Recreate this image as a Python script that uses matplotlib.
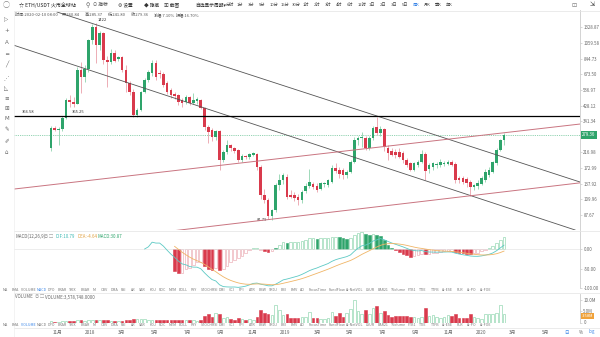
import numpy as np
import pandas as pd
import matplotlib
matplotlib.use("Agg")
import matplotlib.pyplot as plt
from matplotlib.ticker import NullLocator, FixedLocator
import matplotlib.transforms as mtransforms

plt.rcParams["font.family"] = ["Noto Sans CJK SC", "DejaVu Sans"]

# ETH/USDT weekly candles, first week starting 2017-10-16
first_week = "2017-10-16"
opens = [231, 309, 300, 305, 357, 463, 452, 440, 716, 647, 726, 1106, 1335, 1028, 1223, 827,
         804, 916, 840, 864, 716, 593, 520, 373, 401, 520, 619, 685, 792, 690, 672, 590,
         536, 505, 498, 463, 450, 484, 445, 455, 463, 413, 313, 300, 271, 295, 194, 218,
         241, 231, 225, 194, 206, 203, 210, 212, 175, 117, 109, 86, 94, 135, 145, 152,
         117, 117, 114, 109, 124, 133, 138, 133, 128, 137, 135, 141, 173, 168, 168, 156,
         163, 189, 260, 267, 267, 231, 267, 313, 287, 304, 231, 222, 218, 218, 215, 194,
         186, 168, 181, 189, 212, 171, 175, 181, 181, 184, 184, 189, 184, 150, 149, 147,
         141, 131, 133, 137, 145, 156, 163, 186, 225, 260]
highs = [318, 316, 312, 366, 475, 500, 482, 745, 800, 775, 1120, 1395, 1422, 1260, 1250, 880,
         970, 960, 880, 880, 770, 610, 540, 410, 530, 640, 720, 830, 830, 720, 700, 610,
         550, 520, 505, 480, 500, 490, 515, 485, 470, 420, 325, 310, 300, 300, 225, 260,
         245, 235, 228, 212, 210, 216, 218, 215, 180, 128, 112, 96, 140, 158, 160, 158,
         125, 122, 118, 125, 140, 170, 142, 140, 142, 142, 148, 180, 185, 175, 172, 168,
         195, 270, 275, 290, 275, 275, 320, 362, 320, 310, 240, 230, 228, 231, 220, 200,
         190, 190, 195, 225, 218, 185, 190, 190, 197, 192, 195, 195, 188, 155, 155, 152,
         145, 138, 145, 155, 170, 175, 192, 230, 265, 285.37]
lows = [222, 294, 241, 298, 350, 420, 418, 436, 515, 600, 700, 1050, 790, 960, 780, 560,
        780, 800, 820, 700, 520, 500, 365, 360, 395, 510, 600, 660, 620, 640, 560, 505,
        480, 470, 430, 420, 440, 430, 435, 440, 405, 300, 250, 255, 260, 168, 190, 212,
        222, 215, 190, 188, 198, 198, 205, 168, 110, 104, 83, 81.79, 92, 125, 138, 110,
        112, 108, 102, 105, 120, 130, 128, 122, 125, 132, 132, 140, 160, 150, 148, 150,
        160, 185, 240, 235, 225, 225, 260, 280, 275, 222, 195, 205, 200, 200, 185, 175,
        165, 165, 175, 185, 145, 160, 168, 172, 176, 178, 180, 178, 140, 140, 138, 132,
        115, 125, 128, 135, 142, 152, 160, 182, 220, 241.8]
closes = [309, 300, 305, 357, 463, 450, 440, 716, 647, 726, 1106, 1335, 1028, 1223, 827, 804,
          916, 820, 864, 716, 593, 520, 373, 401, 520, 619, 695, 792, 647, 672, 576, 520,
          498, 490, 450, 445, 484, 445, 463, 470, 413, 313, 291, 271, 295, 194, 218, 241,
          231, 222, 194, 206, 203, 212, 214, 175, 117, 109, 86, 94, 135, 145, 156, 114,
          114, 112, 109, 122, 133, 141, 131, 126, 139, 139, 145, 173, 166, 159, 156, 163,
          189, 260, 267, 271, 231, 267, 309, 287, 304, 235, 215, 210, 210, 203, 194, 181,
          168, 186, 189, 212, 165, 181, 186, 184, 189, 187, 189, 181, 145, 146, 141, 139,
          131, 135, 139, 150, 163, 168, 189, 225, 260, 279.36]
# weekly volume, millions
volumes = [0.5, 0.4, 0.4, 0.5, 0.7, 0.6, 0.5, 0.9, 1.1, 0.7, 1.0, 1.2, 1.3, 0.9, 1.1, 1.2,
           0.8, 0.7, 0.6, 0.7, 1.0, 1.2, 1.6, 1.5, 1.7, 1.4, 1.1, 1.3, 1.2, 1.0, 1.2, 1.1,
           1.0, 0.9, 1.2, 1.1, 1.0, 1.3, 0.9, 0.8, 1.3, 3.0, 3.6, 2.4, 4.3, 4.0, 2.2, 2.4,
           1.5, 1.3, 2.0, 1.6, 1.3, 1.4, 1.1, 2.6, 5.4, 4.4, 4.0, 3.2, 7.6, 5.4, 3.2, 3.6,
           2.2, 1.8, 2.2, 2.4, 2.6, 4.8, 2.0, 1.8, 1.6, 1.4, 2.0, 4.6, 2.8, 4.2, 2.6, 4.4,
           5.8, 10.2, 5.0, 3.8, 5.6, 4.0, 6.6, 7.3, 4.2, 5.0, 3.2, 2.4, 3.0, 3.0, 2.8, 3.0,
           2.6, 2.4, 1.8, 2.4, 6.6, 3.0, 3.2, 2.4, 2.0, 2.6, 3.5, 3.0, 4.0, 2.2, 1.8, 2.2,
           4.0, 2.5, 1.8, 1.6, 3.6, 4.0, 3.8, 4.2, 7.8, 3.578748]

price_ticks = [1328.87, 1059.58, 844.73, 673.50, 536.97, 428.12, 341.34,
               216.98, 172.99, 137.92, 109.96, 87.67]
resistance = 366.58
peak_label = "1422"
low_label = "81.79"

# drawn trend lines: (week index, price) end points
down_upper = [(1.6, 1659), (141.3, 141.3)]
down_lower = [(-10.1, 1028), (140.0, 70.5)]
up_upper = [(-9.9, 127.6), (141.3, 327.3)]
up_lower = [(-9.9, 53.1), (141.3, 139.6)]

month_starts = ["2017-11-01", "2018-01-01", "2018-03-01", "2018-05-01", "2018-07-01",
                "2018-09-01", "2018-11-01", "2019-01-01", "2019-03-01", "2019-05-01",
                "2019-07-01", "2019-09-01", "2019-11-01", "2020-01-01", "2020-03-01",
                "2020-05-01"]
month_labels = ["11月", "2018", "3月", "5月", "7月", "9月", "11月", "2019", "3月", "5月",
                "7月", "9月", "11月", "2020", "3月", "5月"]

top_items = ["分时", "1分", "3分", "5分", "10分", "15分", "30分", "1时", "2时", "3时", "4时",
             "6时", "12时", "1日", "2日", "3日", "5日", "周K", "月K", "季K", "年K"]
indicator_tabs = ["MA", "EMA", "VOLUME", "MACD", "DPO", "BRAR", "TRIX", "BBAR", "MI", "OBV",
                  "DMA", "RSI", "AR", "SAR", "KDJ", "ROC", "MTM", "BOLL", "PSY", "STOCHRSI",
                  "DMI", "CCI", "PPI", "ATR", "BBW", "SKDJ", "BBI", "EMV", "AO", "FocusTime",
                  "FundFlow", "AI-NetVOL", "LSUR", "BAR21", "TVolume", "FTB1", "TTIE", "TTFB",
                  "AI-ESE", "RLR", "AI-PO", "AI-FOE"]

GREEN = "#2ea46b"
RED = "#d93a4c"
LGREEN = "#7fcfa3"
PINK = "#e9a0aa"
GREY = "#666666"

W, H = 600, 337
fig = plt.figure(figsize=(W / 100, H / 100), dpi=100)
fig.patch.set_facecolor("white")


def box(x0, y0, x1, y1):
    return fig.add_axes([x0 / W, 1 - y1 / H, (x1 - x0) / W, (y1 - y0) / H])


def ftext(x, y, s, **kw):
    kw.setdefault("fontsize", 3.8)
    kw.setdefault("color", "#444444")
    kw.setdefault("va", "center")
    return fig.text(x / W, 1 - y / H, s, **kw)


o = np.array(opens, float)
h = np.array(highs, float)
l = np.array(lows, float)
c = np.array(closes, float)
v = np.array(volumes, float)
n = len(c)
idx = np.arange(n)
up = c >= o

start = pd.Timestamp(first_week)
tick_pos = [((pd.Timestamp(d) - start).days - 3.5) / 7 for d in month_starts]
XLIM = (-9.9, 141.3)


def style(ax):
    ax.set_facecolor("none")
    for s in ("top", "left", "bottom"):
        ax.spines[s].set_visible(False)
    ax.spines["right"].set_color("#cccccc")
    ax.spines["right"].set_linewidth(0.6)
    ax.set_xlim(*XLIM)
    ax.set_xticks([])
    ax.yaxis.tick_right()
    ax.tick_params(axis="y", length=1.2, width=0.4, color="#bbbbbb", labelsize=3.2,
                   labelcolor=GREY, pad=1.2)


# ---- main price panel ----
ax = box(14, 10, 580, 230)
style(ax)
ax.set_yscale("log")
ax.set_ylim(70.5, 1708)
ax.yaxis.set_major_locator(FixedLocator(price_ticks))
ax.yaxis.set_minor_locator(NullLocator())
ax.set_yticklabels([f"{t:.2f}" for t in price_ticks])

body_lo = np.minimum(o, c)
body_hi = np.maximum(o, c)
body_hi = np.maximum(body_hi, body_lo * 1.006)
cols = np.where(up, GREEN, RED)
wick_cols = np.where(up, "#8fd3ae", "#eaa0aa")
ax.vlines(idx, l, h, colors=wick_cols, linewidth=0.6, zorder=2)
ax.bar(idx, body_hi - body_lo, bottom=body_lo, width=0.7, color=cols, linewidth=0, zorder=3)

for pts, col, lw in [(down_upper, "#555555", 0.6), (down_lower, "#555555", 0.6),
                     (up_upper, "#c97480", 0.7), (up_lower, "#c97480", 0.7)]:
    ax.plot([p[0] for p in pts], [p[1] for p in pts], color=col, linewidth=lw, zorder=4)

ax.axhline(resistance, color="black", linewidth=0.9, zorder=4)
ax.axhline(closes[-1], color="#6cc497", linewidth=0.6, linestyle=(0, (1, 1.2)), zorder=1)
ax.text(XLIM[0] + 2, resistance * 1.03, f"{resistance:.2f}", fontsize=3.0, color="#333333",
        va="bottom")
ax.text(5.5, resistance * 1.03, "365.25", fontsize=3.0, color="#333333", va="bottom")
peak_i = int(np.argmax(h))
ax.text(peak_i + 0.5, h[peak_i] * 1.01, peak_label, fontsize=3.0, color="#333333", va="bottom")
low_i = int(np.argmin(l))
ax.text(low_i - 1.2, l[low_i], low_label, fontsize=3.0, color="#333333", va="center", ha="right")

trans = mtransforms.blended_transform_factory(ax.transAxes, ax.transData)
ax.text(1.004, closes[-1], f"{closes[-1]:.2f}", transform=trans, fontsize=3.2, color="white",
        va="center", ha="left",
        bbox=dict(boxstyle="square,pad=0.25", fc=GREEN, ec="none"))

# ---- MACD panel ----
cs = pd.Series(c)
dif = cs.ewm(span=12, adjust=False).mean() - cs.ewm(span=26, adjust=False).mean()
dea = dif.ewm(span=9, adjust=False).mean()
hist = 2 * (dif - dea)
dif_v, dea_v, hist_v = dif.values, dea.values, hist.values

axm = box(14, 231, 580, 288)
style(axm)
axm.set_ylim(-100.8, 47.7)
axm.set_yticks([0, -50, -100])
axm.set_yticklabels(["0.00", "-50.00", "-100.00"])
axm.axhline(0, color="#e0e0e0", linewidth=0.4)
for i in range(33, n):
    val = hist_v[i]
    grow = abs(val) >= abs(hist_v[i - 1])
    if val >= 0:
        face = "white" if grow else GREEN
        edge = LGREEN if grow else GREEN
    else:
        face = RED if grow else "white"
        edge = RED if grow else PINK
    axm.bar(i, val, width=0.7, color=face, edgecolor=edge, linewidth=0.4)
axm.plot(idx[25:], dif_v[25:], color="#5cc9c4", linewidth=0.6)
axm.plot(idx[33:], dea_v[33:], color="#f0b566", linewidth=0.6)

ftext(15, 236.5, "MACD(12,26,9)", color=GREY, fontsize=3.2)
ftext(44, 236.5, "◎ ▢", color="#aaaaaa", fontsize=3.0)
ftext(56, 236.5, f"DIF:{dif_v[-1]:.2f}", color="#3bb8b2", fontsize=3.2)
ftext(77, 236.5, f"DEA:{dea_v[-1]:.2f}", color="#e0a040", fontsize=3.2)
ftext(98, 236.5, f"MACD:{hist_v[-1]:.2f}", color=GREEN, fontsize=3.2)

# ---- volume panel ----
axv = box(14, 294, 580, 322.5)
style(axv)
axv.set_ylim(0, 12.67)
axv.set_yticks([0, 5, 10])
axv.set_yticklabels(["0", "5.0M", "10.0M"])
axv.tick_params(axis="y", pad=1.2)
axv.bar(idx[up], v[up], width=0.7, color="white", edgecolor=LGREEN, linewidth=0.4)
axv.bar(idx[~up], v[~up], width=0.7, color=RED, edgecolor=RED, linewidth=0.4)
transv = mtransforms.blended_transform_factory(axv.transAxes, axv.transData)
axv.text(1.004, v[-1] - 0.6, f"{v[-1]:.2f}M", transform=transv, fontsize=3.0, color="white",
         va="center", ha="left", bbox=dict(boxstyle="square,pad=0.2", fc="#f0a23a", ec="none"))
axv.set_yticklabels(["", "5.0M", "10.0M"])
ftext(583.5, 322.3, "0", fontsize=3.2, color=GREY)
ftext(15, 297, "VOLUME", color=GREY, fontsize=3.2)
ftext(35, 297, "◎ ▢", color="#aaaaaa", fontsize=3.0)
ftext(45, 297, f"VOLUME:{v[-1] * 1e6:,.4f}", color=GREY, fontsize=3.2)

# ---- date axis ----
axd = box(14, 328, 580, 337)
axd.set_xlim(*XLIM)
axd.set_ylim(0, 1)
axd.axis("off")
for p, lab in zip(tick_pos, month_labels):
    axd.text(p, 0.45, lab, fontsize=3.4, color=GREY, ha="center", va="center")

# panel separators
for y in (10.5, 230.8, 292.5, 328):
    fig.add_artist(plt.Line2D([14 / W, 1], [1 - y / H] * 2, color="#e3e3e3", linewidth=0.5))
fig.add_artist(plt.Line2D([14 / W] * 2, [0, 1 - 10.5 / H], color="#eeeeee", linewidth=0.5))

# indicator tab rows
widths = np.array([1.75 * len(s) + 5.5 for s in indicator_tabs])
xs = 3 + np.concatenate([[0], np.cumsum(widths)[:-1]]) * (492 / widths.sum())
for row_y, active in ((289.8, "MACD"), (325.5, "VOLUME")):
    for xx, s in zip(xs, indicator_tabs):
        ftext(xx, row_y, s, fontsize=2.6, color="#3a86e8" if s == active else "#777777")

# top toolbar
ftext(6, 5, "◯", fontsize=5, color="#888888", ha="center")
ftext(19, 5, "☆ ETH/USDT 火币全球站", fontsize=3.6, color="#222222")
ftext(86, 5, "⚲", fontsize=4.2, color="#555555", family=["DejaVu Sans"])
for xx, s in ((93, "⚇ 指标"), (118, "⚙ 设置"), (144, "◆ 隐藏"), (164, "▣ 截图")):
    ftext(xx, 5, s, fontsize=3.4, color="#333333")
ftext(195, 5, "自选显示周期▾", fontsize=3.4, color="#333333")
item_x = np.linspace(226, 446, len(top_items))
for xx, s in zip(item_x, top_items):
    ftext(xx, 5, s, fontsize=3.0, color="#3a86e8" if s == "周K" else "#444444")
ftext(574, 5, "⊡", fontsize=4.5, color="#777777", ha="center")
ftext(592, 5, "⇲", fontsize=4.5, color="#444444", ha="center", family=["DejaVu Sans"])

# OHLC info line
info = [(15, "时间:2020-02-10 08:00"), (62, "开:260.84"), (85, "高:285.37"),
        (108, "低:241.80"), (131, "收:279.36"), (154, "涨幅:7.10%"), (176, "振幅:16.70%")]
for xx, s in info:
    ftext(xx, 14.5, s, fontsize=3.0, color="#555555")

# left drawing toolbar
left_icons = [(20, "▷"), (30, "+"), (43, "A"), (55, "═"), (65, "╱"), (78, "⋰"), (88, "◺"),
              (98, "≡"), (109, "⊞"), (118, "M"), (130, "✎"), (142, "✐"), (152, "⌂")]
for yy, s in left_icons:
    ftext(6.5, yy, s, fontsize=4, color="#666666", ha="center", family=["DejaVu Sans"])

# bottom right switches
ftext(566, 332, "日", fontsize=3.2, color="#3a86e8", ha="center")
ftext(581, 332, "%", fontsize=3.2, color="#555555", ha="center")
ftext(592, 332, "log", fontsize=3.2, color="#3a86e8", ha="center")

fig.savefig("out.png", dpi=100, facecolor="white")
